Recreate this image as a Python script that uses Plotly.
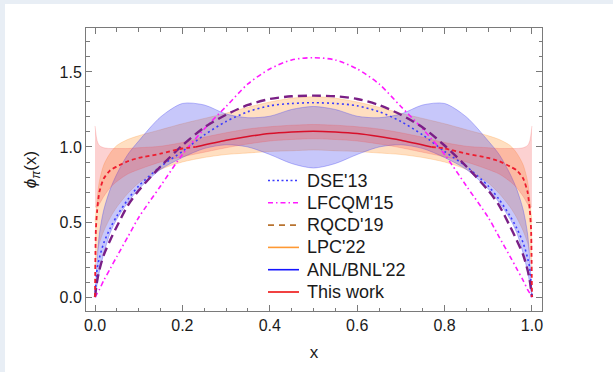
import plotly.graph_objects as go

# ---------------- data ----------------
X = [0, 0.005, 0.01, 0.02, 0.035, 0.05, 0.075, 0.1, 0.15, 0.2, 0.25, 0.3, 0.35, 0.4, 0.45, 0.5,
     0.55, 0.6, 0.65, 0.7, 0.75, 0.8, 0.85, 0.9, 0.925, 0.95, 0.965, 0.98, 0.99, 0.995, 1.0]

dse13 = [0, 0.19, 0.26, 0.36, 0.46, 0.54, 0.65, 0.74, 0.87, 0.97, 1.08, 1.17, 1.235, 1.275, 1.29, 1.295,
         1.29, 1.275, 1.235, 1.17, 1.08, 0.97, 0.87, 0.74, 0.65, 0.54, 0.46, 0.36, 0.26, 0.19, 0]

lfcqm15 = [0, 0.025, 0.05, 0.11, 0.19, 0.27, 0.40, 0.53, 0.74, 0.95, 1.12, 1.27, 1.42, 1.52, 1.58, 1.595,
           1.58, 1.52, 1.42, 1.27, 1.12, 0.95, 0.74, 0.53, 0.40, 0.27, 0.19, 0.11, 0.05, 0.025, 0]

rqcd19 = [0, 0.11, 0.18, 0.28, 0.38, 0.47, 0.61, 0.71, 0.87, 1.01, 1.13, 1.215, 1.28, 1.32, 1.338, 1.342,
          1.338, 1.32, 1.28, 1.215, 1.13, 1.01, 0.87, 0.71, 0.61, 0.47, 0.38, 0.28, 0.18, 0.11, 0]

lpc22_hi = [0.5, 0.65, 0.77, 0.88, 0.96, 1.01, 1.05, 1.075, 1.115, 1.155, 1.19, 1.225, 1.265, 1.30, 1.325, 1.335,
            1.325, 1.30, 1.265, 1.225, 1.19, 1.155, 1.115, 1.075, 1.05, 1.01, 0.96, 0.88, 0.77, 0.65, 0.5]
lpc22_lo = [0.2, 0.3, 0.36, 0.44, 0.53, 0.6, 0.69, 0.76, 0.85, 0.9, 0.93, 0.95, 0.96, 0.97, 0.975, 0.98,
            0.975, 0.97, 0.96, 0.95, 0.93, 0.9, 0.85, 0.76, 0.69, 0.6, 0.53, 0.44, 0.36, 0.3, 0.2]

anl22_hi = [0, 0.25, 0.42, 0.58, 0.72, 0.82, 0.95, 1.04, 1.2, 1.29, 1.28, 1.22, 1.195, 1.205, 1.25, 1.27,
            1.25, 1.205, 1.195, 1.22, 1.28, 1.29, 1.2, 1.04, 0.95, 0.82, 0.72, 0.58, 0.42, 0.25, 0]
anl22_lo = [0, 0.09, 0.17, 0.29, 0.43, 0.52, 0.63, 0.72, 0.85, 0.93, 0.99, 1.015, 1.0, 0.95, 0.89, 0.86,
            0.89, 0.95, 1.0, 1.015, 0.99, 0.93, 0.85, 0.72, 0.63, 0.52, 0.43, 0.29, 0.17, 0.09, 0]

this_hi = [1.14, 1.04, 1.01, 0.995, 0.99, 0.99, 0.99, 0.995, 1.005, 1.03, 1.065, 1.095, 1.12, 1.135, 1.145, 1.15,
           1.145, 1.135, 1.12, 1.095, 1.065, 1.03, 1.005, 0.995, 0.99, 0.99, 0.99, 0.995, 1.01, 1.04, 1.14]
this_lo = [0.6, 0.6, 0.62, 0.67, 0.73, 0.77, 0.82, 0.85, 0.9, 0.935, 0.965, 0.995, 1.02, 1.04, 1.05, 1.055,
           1.05, 1.04, 1.02, 0.995, 0.965, 0.935, 0.9, 0.85, 0.82, 0.77, 0.73, 0.67, 0.62, 0.6, 0.6]

# central curve of "This work": dashed outer parts, solid middle
this_x_left = [0, 0.002, 0.005, 0.01, 0.02, 0.035, 0.05, 0.075, 0.1, 0.15, 0.2, 0.23]
this_y_left = [0, 0.45, 0.58, 0.70, 0.79, 0.845, 0.87, 0.905, 0.927, 0.955, 0.99, 1.0]
this_x_mid = [0.23, 0.3, 0.35, 0.4, 0.45, 0.5, 0.55, 0.6, 0.65, 0.7, 0.77]
this_y_mid = [1.0, 1.045, 1.07, 1.09, 1.10, 1.105, 1.10, 1.09, 1.07, 1.045, 1.0]
this_x_right = [0.77, 0.8, 0.85, 0.9, 0.925, 0.95, 0.965, 0.98, 0.99, 0.995, 0.998, 1.0]
this_y_right = [1.0, 0.99, 0.955, 0.927, 0.905, 0.87, 0.845, 0.79, 0.70, 0.58, 0.45, 0]

x_ticks = [0.0, 0.2, 0.4, 0.6, 0.8, 1.0]
x_tick_labels = ["0.0", "0.2", "0.4", "0.6", "0.8", "1.0"]
y_ticks = [0.0, 0.5, 1.0, 1.5]
y_tick_labels = ["0.0", "0.5", "1.0", "1.5"]

legend_names = ["DSE'13", "LFCQM'15", "RQCD'19", "LPC'22", "ANL/BNL'22", "This work"]
legend_colors = ["#3b3bff", "#ff1aff", "#b8732f", "#ff9933", "#1515ff", "#ee1111"]
legend_dashes = ["2px,2.5px", "5px,3px,1.5px,3px", "6px,5px", "solid", "solid", "solid"]

# ---------------- figure ----------------
FONT = "Liberation Sans, Arial, sans-serif"
TXT = "#1a1a1a"
fig = go.Figure()


def band(lo, hi, fillcol, edgecol):
    fig.add_trace(go.Scatter(x=X, y=lo, mode="lines", line=dict(color=edgecol, width=0.8, shape="spline", smoothing=0.8),
                             showlegend=False, hoverinfo="skip"))
    fig.add_trace(go.Scatter(x=X, y=hi, mode="lines", fill="tonexty", fillcolor=fillcol,
                             line=dict(color=edgecol, width=0.8, shape="spline", smoothing=0.8),
                             showlegend=False, hoverinfo="skip"))


band(lpc22_lo, lpc22_hi, "rgba(255,150,50,0.30)", "rgba(255,150,50,0.35)")
band(anl22_lo, anl22_hi, "rgba(70,70,240,0.30)", "rgba(70,70,240,0.45)")
band(this_lo, this_hi, "rgba(245,70,70,0.25)", "rgba(245,70,70,0.25)")

fig.add_trace(go.Scatter(x=X, y=dse13, mode="lines", showlegend=False,
                         line=dict(color="#3b3bff", width=1.6, dash="2px,3px", shape="spline", smoothing=0.8)))
fig.add_trace(go.Scatter(x=X, y=lfcqm15, mode="lines", showlegend=False,
                         line=dict(color="#ff1aff", width=1.6, dash="5px,3px,1.5px,3px", shape="spline", smoothing=0.8)))
fig.add_trace(go.Scatter(x=X, y=rqcd19, mode="lines", showlegend=False,
                         line=dict(color="#7a1f86", width=2.4, dash="9px,5px", shape="spline", smoothing=0.8)))

fig.add_trace(go.Scatter(x=this_x_left, y=this_y_left, mode="lines", showlegend=False,
                         line=dict(color="#ee1c2e", width=1.8, dash="4px,3px", shape="spline", smoothing=0.6)))
fig.add_trace(go.Scatter(x=this_x_right, y=this_y_right, mode="lines", showlegend=False,
                         line=dict(color="#ee1c2e", width=1.8, dash="4px,3px", shape="spline", smoothing=0.6)))
fig.add_trace(go.Scatter(x=this_x_mid, y=this_y_mid, mode="lines", showlegend=False,
                         line=dict(color="#d8102a", width=1.6, shape="spline", smoothing=0.8)))

axis_common = dict(showgrid=False, zeroline=False, showline=True, linecolor="#7a7a7a", linewidth=1,
                   mirror="ticks", ticks="inside", ticklen=6, tickwidth=1, tickcolor="#7a7a7a", automargin=False,
                   tickfont=dict(family=FONT, size=16, color=TXT))

fig.update_xaxes(range=[-0.0206, 1.023], tickvals=x_ticks, ticktext=x_tick_labels,
                 minor=dict(dtick=0.05, ticks="inside", ticklen=3.5, tickcolor="#7a7a7a", tick0=0),
                 title=dict(text="x", font=dict(family=FONT, size=17, color=TXT), standoff=12),
                 **axis_common)
fig.update_yaxes(range=[-0.093, 1.793], tickvals=y_ticks, ticktext=y_tick_labels,
                 minor=dict(dtick=0.1, ticks="inside", ticklen=3.5, tickcolor="#7a7a7a", tick0=0),
                 title=dict(text="<i>ϕ</i><sub><i>π</i></sub>(x)", font=dict(family=FONT, size=17, color=TXT),
                            standoff=18),
                 **axis_common)

# page puts the figure 5 px right / 4 px down (light strip shows on the left and top)
OX, OY = 5, 4
# plot area in window pixels, converted to figure pixels
L, R, T, B = 86 - OX, 542 - OX, 28 - OY, 311 - OY
W_PLOT = float(R - L)
H_PLOT = float(B - T)


def px_x(p):
    return (p - OX - L) / W_PLOT


def px_y(p):
    return (B - (p - OY)) / H_PLOT


# legend drawn inside the plot
leg_y0, leg_dy = 180.5, 22.3
for i, name in enumerate(legend_names):
    yc = leg_y0 + i * leg_dy
    fig.add_shape(type="line", xref="paper", yref="paper", x0=px_x(268), x1=px_x(299), y0=px_y(yc), y1=px_y(yc),
                  line=dict(color=legend_colors[i], width=1.6, dash=legend_dashes[i]))
    fig.add_annotation(xref="paper", yref="paper", x=px_x(305), y=px_y(yc), text=name, showarrow=False,
                       xanchor="left", yanchor="middle", font=dict(family=FONT, size=18, color=TXT))

fig.update_layout(
    width=613, height=372,
    margin=dict(l=L, r=613 - R, t=T, b=372 - B),
    paper_bgcolor="white", plot_bgcolor="white",
    font=dict(family=FONT, color=TXT),
    showlegend=False,
)

fig.write_html(
    "out.html",
    config={"displayModeBar": False},
    post_script="document.body.style.margin='%dpx 0px 0px %dpx'; document.body.style.background='#e8eef5';" % (OY, OX),
)
